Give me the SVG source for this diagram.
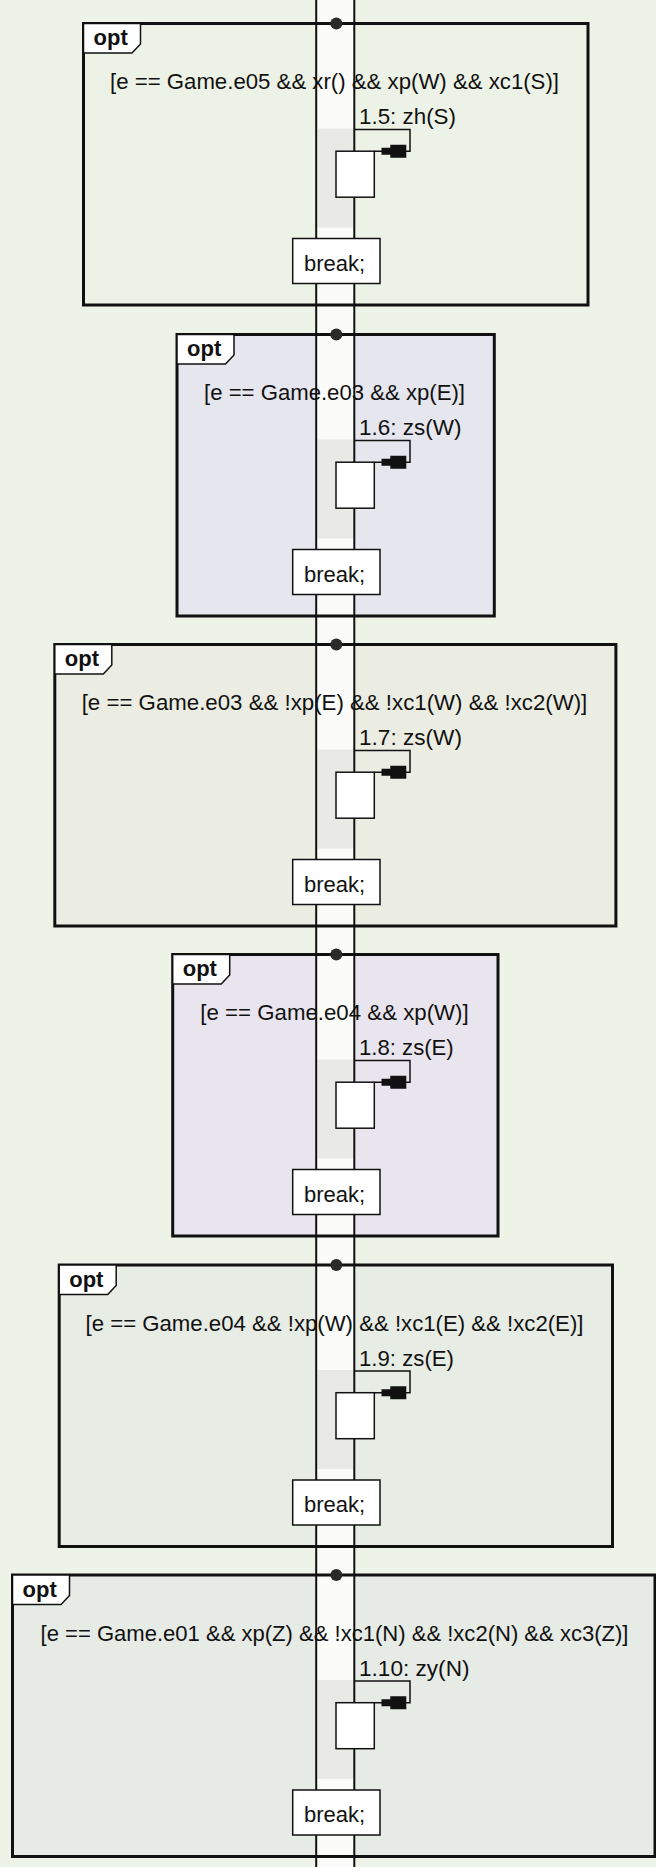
<svg xmlns="http://www.w3.org/2000/svg" width="656" height="1867" viewBox="0 0 656 1867">
<style>
text{font-family:"Liberation Sans",Arial,sans-serif;font-size:22px;fill:#111}
.guard,.brk{text-anchor:middle}
.opt{font-weight:bold}
.fill{fill-rule:evenodd;stroke:none}
.border{fill:none;stroke:#111;stroke-width:3}
.tab{fill:#fff;stroke:#111;stroke-width:1.5}
.box{fill:#fff;stroke:#111;stroke-width:1.5}
.band{fill:#e9eae6}
.ll{stroke:#111;stroke-width:2}
.msg{fill:none;stroke:#111;stroke-width:1.5;marker-end:url(#ah)}
.dot{fill:#2a2a2a}
</style>
<defs>
<marker id="ah" markerUnits="userSpaceOnUse" markerWidth="40" markerHeight="20" refX="0" refY="0" orient="auto" overflow="visible">
<path d="M-7.2,-3.5H-16V-6.5H-32V6.5H-16V3.5H-7.2Z" fill="#111"/>
</marker>
</defs>
<rect width="656" height="1867" fill="#eef3e8"/>
<g id="lifeline-column">
<rect x="316.2" y="0" width="38.1" height="1867" fill="#fbfcf9"/>
<rect class="band" x="317.5" y="128.5" width="36" height="99"/>
<rect class="band" x="317.5" y="439.5" width="36" height="99"/>
<rect class="band" x="317.5" y="749.5" width="36" height="99"/>
<rect class="band" x="317.5" y="1059.5" width="36" height="99"/>
<rect class="band" x="317.5" y="1370" width="36" height="99"/>
<rect class="band" x="317.5" y="1680" width="36" height="99"/>
</g>
<g id="frame1">
<path class="fill" fill="#edf2e6" d="M83.5,23.5H588V305H83.5Z M316,23.5V305H354.5V23.5Z"/>
<rect class="border" x="83.5" y="23.5" width="504.5" height="281.5"/>
<path class="tab" d="M83.5,23.5H140.5V44L132,53H83.5Z"/>
<text class="opt" x="93.5" y="45">opt</text>
<text class="guard" x="334.5" y="89" textLength="449" lengthAdjust="spacingAndGlyphs">[e == Game.e05 &amp;&amp; xr() &amp;&amp; xp(W) &amp;&amp; xc1(S)]</text>
<circle class="dot" cx="336.3" cy="23.5" r="6"/>
</g>
<g id="frame2">
<path class="fill" fill="#e6e6ee" d="M177,334.5H494.3V616H177Z M316,334.5V616H354.5V334.5Z"/>
<rect class="border" x="177" y="334.5" width="317.3" height="281.5"/>
<path class="tab" d="M177,334.5H234V355L225.5,364H177Z"/>
<text class="opt" x="187" y="356">opt</text>
<text class="guard" x="334.5" y="400" textLength="261" lengthAdjust="spacingAndGlyphs">[e == Game.e03 &amp;&amp; xp(E)]</text>
<circle class="dot" cx="336.3" cy="334.5" r="6"/>
</g>
<g id="frame3">
<path class="fill" fill="#ebede3" d="M54.8,644.5H615.9V926H54.8Z M316,644.5V926H354.5V644.5Z"/>
<rect class="border" x="54.8" y="644.5" width="561.1" height="281.5"/>
<path class="tab" d="M54.8,644.5H111.8V665L103.3,674H54.8Z"/>
<text class="opt" x="64.8" y="666">opt</text>
<text class="guard" x="334.5" y="710" textLength="505.6" lengthAdjust="spacingAndGlyphs">[e == Game.e03 &amp;&amp; !xp(E) &amp;&amp; !xc1(W) &amp;&amp; !xc2(W)]</text>
<circle class="dot" cx="336.3" cy="644.5" r="6"/>
</g>
<g id="frame4">
<path class="fill" fill="#e9e5ef" d="M172.7,954.5H498V1236H172.7Z M316,954.5V1236H354.5V954.5Z"/>
<rect class="border" x="172.7" y="954.5" width="325.3" height="281.5"/>
<path class="tab" d="M172.7,954.5H229.7V975L221.2,984H172.7Z"/>
<text class="opt" x="182.7" y="976">opt</text>
<text class="guard" x="334.5" y="1020" textLength="268.3" lengthAdjust="spacingAndGlyphs">[e == Game.e04 &amp;&amp; xp(W)]</text>
<circle class="dot" cx="336.3" cy="954.5" r="6"/>
</g>
<g id="frame5">
<path class="fill" fill="#e7ece5" d="M59.2,1265H612.5V1546.5H59.2Z M316,1265V1546.5H354.5V1265Z"/>
<rect class="border" x="59.2" y="1265" width="553.3" height="281.5"/>
<path class="tab" d="M59.2,1265H116.2V1285.5L107.7,1294.5H59.2Z"/>
<text class="opt" x="69.2" y="1286.5">opt</text>
<text class="guard" x="334.5" y="1330.5" textLength="497.9" lengthAdjust="spacingAndGlyphs">[e == Game.e04 &amp;&amp; !xp(W) &amp;&amp; !xc1(E) &amp;&amp; !xc2(E)]</text>
<circle class="dot" cx="336.3" cy="1265" r="6"/>
</g>
<g id="frame6">
<path class="fill" fill="#e7ebe5" d="M12.5,1575H655V1856.5H12.5Z M316,1575V1856.5H354.5V1575Z"/>
<rect class="border" x="12.5" y="1575" width="642.5" height="281.5"/>
<path class="tab" d="M12.5,1575H69.5V1595.5L61,1604.5H12.5Z"/>
<text class="opt" x="22.5" y="1596.5">opt</text>
<text class="guard" x="334.5" y="1640.5" textLength="587.9" lengthAdjust="spacingAndGlyphs">[e == Game.e01 &amp;&amp; xp(Z) &amp;&amp; !xc1(N) &amp;&amp; !xc2(N) &amp;&amp; xc3(Z)]</text>
<circle class="dot" cx="336.3" cy="1575" r="6"/>
</g>
<g id="lifeline">
<line class="ll" x1="316.2" y1="0" x2="316.2" y2="1867"/>
<line class="ll" x1="354.3" y1="0" x2="354.3" y2="1867"/>
</g>
<g id="activations">
<rect id="act1" class="box" x="336" y="151.2" width="38.3" height="46"/>
<rect id="act2" class="box" x="336" y="462.2" width="38.3" height="46"/>
<rect id="act3" class="box" x="336" y="772.2" width="38.3" height="46"/>
<rect id="act4" class="box" x="336" y="1082.2" width="38.3" height="46"/>
<rect id="act5" class="box" x="336" y="1392.7" width="38.3" height="46"/>
<rect id="act6" class="box" x="336" y="1702.7" width="38.3" height="46"/>
</g>
<g id="break1"><rect class="box" x="292.7" y="238.5" width="87.3" height="45"/><text class="brk" x="334.5" y="270.5">break;</text></g>
<g id="break2"><rect class="box" x="292.7" y="549.5" width="87.3" height="45"/><text class="brk" x="334.5" y="581.5">break;</text></g>
<g id="break3"><rect class="box" x="292.7" y="859.5" width="87.3" height="45"/><text class="brk" x="334.5" y="891.5">break;</text></g>
<g id="break4"><rect class="box" x="292.7" y="1169.5" width="87.3" height="45"/><text class="brk" x="334.5" y="1201.5">break;</text></g>
<g id="break5"><rect class="box" x="292.7" y="1480" width="87.3" height="45"/><text class="brk" x="334.5" y="1512">break;</text></g>
<g id="break6"><rect class="box" x="292.7" y="1790" width="87.3" height="45"/><text class="brk" x="334.5" y="1822">break;</text></g>
<g id="connectors">
<path class="msg" d="M354.3,129.5H410V151.2H374.3"/>
<text x="359" y="124" textLength="97" lengthAdjust="spacingAndGlyphs">1.5: zh(S)</text>
<path class="msg" d="M354.3,440.5H410V462.2H374.3"/>
<text x="359" y="435" textLength="102.4" lengthAdjust="spacingAndGlyphs">1.6: zs(W)</text>
<path class="msg" d="M354.3,750.5H410V772.2H374.3"/>
<text x="359" y="745" textLength="103" lengthAdjust="spacingAndGlyphs">1.7: zs(W)</text>
<path class="msg" d="M354.3,1060.5H410V1082.2H374.3"/>
<text x="359" y="1055" textLength="94.7" lengthAdjust="spacingAndGlyphs">1.8: zs(E)</text>
<path class="msg" d="M354.3,1371H410V1392.7H374.3"/>
<text x="359" y="1365.5" textLength="95" lengthAdjust="spacingAndGlyphs">1.9: zs(E)</text>
<path class="msg" d="M354.3,1681H410V1702.7H374.3"/>
<text x="359" y="1675.5" textLength="110.5" lengthAdjust="spacingAndGlyphs">1.10: zy(N)</text>
</g>
</svg>
